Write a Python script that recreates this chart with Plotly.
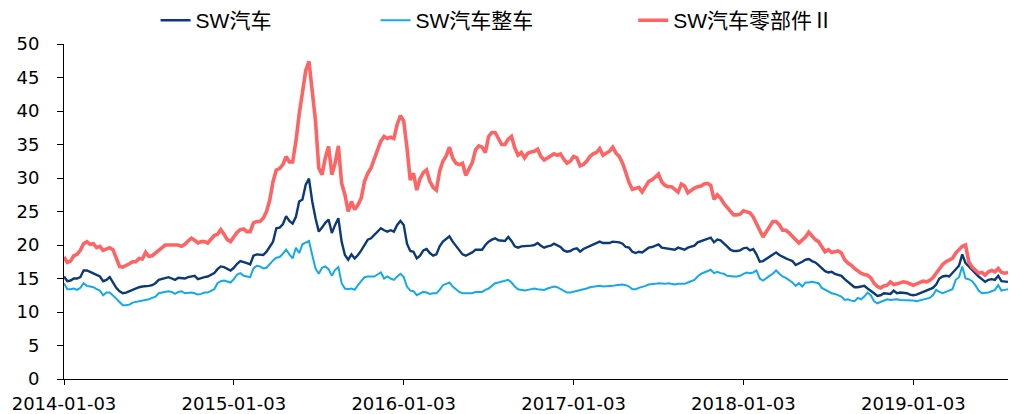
import pandas as pd
import plotly.graph_objects as go

# Weekly values (week 0 = 2014-01-03)
sw_auto = [
    15.3, 14.6, 14.7, 15.0, 15.0, 15.2, 16.2, 16.2, 16.0, 15.8,
    15.6, 15.3, 14.6, 14.8, 15.2, 14.3, 13.6, 13.1, 12.8, 12.9,
    13.1, 13.4, 13.5, 13.7, 13.8, 13.8, 13.9, 14.0, 14.3, 14.8,
    14.9, 15.0, 15.2, 15.0, 14.8, 15.1, 15.1, 15.0, 15.2, 15.3,
    15.4, 14.9, 15.1, 15.2, 15.3, 15.5, 15.8, 16.4, 16.8, 16.7,
    16.5, 16.2, 16.6, 17.2, 17.6, 17.5, 17.3, 17.1, 18.4, 18.6,
    18.6, 18.5, 19.0, 19.8, 20.5, 22.5, 22.6, 23.1, 24.3, 23.6,
    23.2, 24.2, 26.5, 26.8, 29.0, 29.9, 26.5, 24.0, 22.0, 22.6,
    23.3, 23.8, 21.8, 23.0, 24.0, 20.5, 18.5, 17.8, 18.6, 18.0,
    18.5, 19.2, 20.0, 20.8, 21.0, 21.5, 21.9, 22.5, 22.2, 22.0,
    22.2, 22.0, 23.0, 23.6, 23.0, 20.2, 19.1, 19.0, 18.0, 18.4,
    19.2, 19.4, 18.8, 18.4, 18.6, 19.8, 20.5, 20.9, 21.3, 20.5,
    19.9, 19.2, 18.6, 18.4, 18.6, 18.9, 19.3, 19.3, 19.3, 20.0,
    20.5, 20.8, 21.0, 20.7, 20.6, 20.6, 21.2, 20.6, 19.8, 19.6,
    19.8, 19.8, 19.8, 19.9, 20.0, 20.3, 19.9, 19.6, 19.8, 19.9,
    20.2, 20.0, 19.7, 19.2, 19.0, 19.1, 19.4, 19.5, 19.0, 19.4,
    19.6, 19.8, 20.1, 20.3, 20.5, 20.3, 20.3, 20.3, 20.5, 20.5,
    20.4, 20.2, 19.7, 19.6, 19.0, 18.8, 19.0, 18.9, 19.3, 19.6,
    19.7, 19.9, 20.1, 19.6, 19.5, 19.5, 19.4, 19.3, 19.6, 19.4,
    19.3, 19.6, 19.8, 19.9, 20.4, 20.6, 20.7, 21.0, 21.1, 20.4,
    20.8, 20.7, 20.3, 19.8, 19.3, 19.1, 19.1, 19.2, 19.5, 19.6,
    19.2, 19.4, 18.6, 17.5, 17.6, 17.9, 18.3, 18.6, 18.9, 18.5,
    18.2, 18.0, 17.8, 17.6, 17.0, 17.2, 17.5, 17.8, 17.9, 17.6,
    17.4, 17.0, 16.5, 16.1, 15.9, 16.0, 15.7, 15.5, 15.4, 14.9,
    14.5, 14.0, 13.7, 13.7, 13.8, 13.9, 13.5, 13.2, 12.8, 12.4,
    12.5, 12.8, 12.8, 12.7, 13.2, 12.8, 12.9, 12.9, 12.8, 12.6,
    12.5, 12.6, 12.8, 12.9, 13.1, 13.3, 13.6, 14.1, 15.0, 15.3,
    15.4, 15.3, 15.8, 16.3, 16.9, 18.6, 17.3, 16.8, 16.3, 15.7,
    15.3, 14.9, 14.5, 14.8, 14.9, 14.8, 15.4, 14.6, 14.5, 14.5,
]

sw_vehicle = [
    14.3, 13.4, 13.4, 13.5, 13.3, 13.6, 14.3, 13.9, 13.8, 13.7,
    13.4, 13.2, 12.5, 12.9, 12.9, 12.5, 12.0, 11.5, 11.0, 11.0,
    11.1, 11.4, 11.5, 11.6, 11.7, 11.7, 11.9, 12.1, 12.3, 12.8,
    12.9, 12.9, 13.1, 13.0, 12.7, 13.0, 13.1, 12.8, 12.9, 12.9,
    12.8, 12.6, 12.7, 12.9, 12.9, 13.1, 13.4, 14.3, 14.6, 14.7,
    14.5, 14.4, 14.9, 15.6, 15.8, 15.4, 15.3, 15.2, 16.5, 16.9,
    16.8, 16.5, 16.6, 17.2, 17.7, 18.1, 18.2, 18.7, 19.3, 18.6,
    18.0, 19.6, 18.8, 20.1, 20.3, 20.6, 18.5, 16.5, 15.7, 16.6,
    16.8, 16.4, 15.4, 16.3, 16.7, 14.3, 13.5, 13.4, 13.5, 13.3,
    14.0, 14.6, 15.2, 15.3, 15.3, 15.3, 15.6, 15.9, 15.0, 15.3,
    15.0, 14.8, 15.3, 15.7, 15.2, 13.8, 13.2, 13.1, 12.5, 12.7,
    13.0, 12.9, 12.7, 12.8, 12.8, 13.3, 14.0, 14.2, 14.4, 13.8,
    13.4, 13.0, 12.8, 12.8, 12.7, 12.8, 13.0, 13.0, 13.0, 13.3,
    13.5, 13.9, 14.3, 14.4, 14.5, 14.6, 14.8, 14.4, 13.8, 13.4,
    13.3, 13.2, 13.3, 13.4, 13.5, 13.4, 13.3, 13.3, 13.5, 13.6,
    13.8, 13.7, 13.4, 13.1, 12.9, 12.9, 13.0, 13.1, 13.3, 13.4,
    13.5, 13.7, 13.8, 13.9, 13.9, 13.8, 13.8, 13.9, 13.9, 14.0,
    14.1, 14.1, 14.0, 13.8, 13.4, 13.4, 13.6, 13.7, 13.9, 14.1,
    14.1, 14.2, 14.3, 14.2, 14.2, 14.3, 14.2, 14.1, 14.2, 14.2,
    14.2, 14.4, 14.6, 14.8, 15.3, 15.7, 15.9, 16.1, 16.3, 15.8,
    16.0, 15.8, 15.7, 15.4, 15.3, 15.3, 15.3, 15.4, 15.7, 15.9,
    15.8, 15.9, 16.2, 15.0, 14.7, 15.1, 15.4, 15.7, 16.2, 15.7,
    15.3, 15.1, 14.8, 14.4, 13.9, 14.3, 13.8, 14.4, 14.4, 14.5,
    14.4, 14.3, 13.6, 13.3, 13.1, 12.8, 12.7, 12.5, 12.3, 11.8,
    11.9, 11.7, 11.6, 12.1, 11.9, 12.3, 12.9, 12.5, 11.6, 11.3,
    11.5, 11.8, 11.9, 11.8, 11.9, 11.9, 11.8, 11.8, 11.7, 11.7,
    11.7, 11.6, 11.7, 11.8, 11.9, 12.1, 12.5, 13.3, 13.0, 12.8,
    13.0, 13.2, 13.4, 14.8, 15.2, 16.8, 15.0, 14.9, 14.6, 14.0,
    13.2, 12.8, 12.8, 12.9, 13.1, 13.3, 14.0, 13.2, 13.3, 13.4,
]

sw_parts = [
    18.2, 17.4, 17.6, 18.4, 18.6, 19.2, 20.2, 20.5, 20.1, 20.2,
    19.6, 19.8, 19.2, 19.4, 19.6, 19.3, 18.2, 16.8, 16.7, 16.9,
    17.2, 17.5, 17.5, 18.0, 17.9, 18.9, 18.3, 18.4, 18.8, 19.3,
    19.7, 20.0, 20.0, 20.0, 19.9, 20.0, 19.8, 20.1, 20.6, 21.0,
    20.7, 20.3, 20.5, 20.5, 20.3, 20.9, 21.4, 21.6, 22.3, 21.6,
    20.8, 20.5, 21.3, 21.9, 22.3, 22.4, 22.0, 22.0, 23.3, 23.5,
    23.5, 24.0, 25.0, 26.7, 29.5, 31.2, 31.4, 32.0, 33.2, 32.4,
    32.4, 35.5, 39.5, 42.5, 46.0, 47.4, 42.9, 38.5, 31.5, 30.5,
    33.0, 34.7, 30.5, 32.2, 34.8, 29.2, 27.5, 25.0, 26.5, 25.3,
    26.0, 27.0, 29.5, 30.7, 31.5, 33.0, 34.2, 35.5, 36.2, 35.9,
    36.1, 35.9, 38.0, 39.3, 38.5, 34.5, 29.7, 30.7, 28.2, 29.9,
    30.8, 31.2, 29.5, 28.6, 28.2, 31.0, 32.5, 33.3, 34.6, 33.0,
    32.2, 32.0, 32.2, 30.4, 31.5, 32.3, 34.2, 34.8, 34.6, 33.8,
    36.2, 36.8, 36.8, 36.0, 35.0, 35.0, 35.8, 36.2, 34.5, 33.4,
    33.8, 33.0, 33.7, 33.9, 34.0, 34.3, 33.2, 32.7, 33.0, 33.3,
    33.6, 33.4, 33.6, 32.8, 32.2, 32.5, 33.2, 33.0, 31.8, 32.0,
    32.5, 33.2, 33.6, 33.8, 34.4, 33.4, 33.7, 34.0, 34.6, 33.7,
    33.2, 32.2, 30.8, 29.3, 28.3, 28.4, 28.6, 27.9, 28.8, 29.5,
    29.7, 30.2, 30.6, 29.4, 28.9, 28.7, 28.7, 28.3, 27.9, 29.1,
    28.8, 27.8, 28.2, 28.5, 28.7, 28.8, 29.1, 29.2, 28.9, 26.8,
    27.5, 27.0, 26.2, 25.6, 25.0, 24.5, 24.5, 24.6, 25.1, 25.0,
    24.8, 24.2, 23.3, 22.2, 21.2, 22.0, 22.8, 23.5, 23.5, 23.0,
    22.2, 22.2, 21.8, 21.2, 20.8, 20.3, 20.7, 21.2, 21.9, 21.3,
    20.8, 20.5, 19.8, 19.0, 19.3, 18.9, 19.0, 19.1, 18.8, 17.8,
    17.3, 17.0, 16.5, 16.1, 15.8, 15.6, 15.5, 15.1, 14.3, 13.8,
    13.6, 13.9, 14.0, 14.5, 14.1, 14.2, 14.4, 14.5, 14.4, 14.2,
    14.0, 14.2, 14.4, 14.6, 14.5, 14.7, 15.1, 15.8, 16.5, 17.1,
    17.5, 17.8, 18.0, 18.8, 19.3, 19.8, 20.0, 17.5, 16.7, 16.3,
    15.8, 15.9, 15.5, 16.0, 16.2, 16.0, 16.5, 15.9, 15.8, 15.9,
]

series_names = ["SW汽车", "SW汽车整车", "SW汽车零部件Ⅱ"]
tick_labels = ["2014-01-03", "2015-01-03", "2016-01-03",
               "2017-01-03", "2018-01-03", "2019-01-03"]

n = len(sw_auto)
dates = pd.date_range("2014-01-03", periods=n, freq="7D")
tick_vals = [dates[i * 52] for i in range(len(tick_labels))]

colors = ["#0B3A78", "#14A9E8", "#FF6464"]
widths = [2.4, 2.0, 3.6]
legend_ids = ["legend", "legend2", "legend3"]

fig = go.Figure()
for vals, name, c, w, lg in zip([sw_auto, sw_vehicle, sw_parts], series_names,
                                colors, widths, legend_ids):
    fig.add_trace(go.Scatter(x=dates[:len(vals)], y=vals, mode="lines", name=name,
                             line=dict(color=c, width=w), legend=lg, showlegend=True))

font_main = "DejaVu Sans, Liberation Sans, Noto Sans CJK SC"
leg_common = dict(orientation="h", yanchor="middle", y=1.07, xanchor="left",
                  bgcolor="rgba(0,0,0,0)",
                  font=dict(family="Liberation Sans, Noto Sans CJK SC", size=21, color="#000"))

fig.update_layout(
    width=1010, height=414,
    margin=dict(l=64, r=2, t=44, b=35, autoexpand=False),
    paper_bgcolor="white", plot_bgcolor="white",
    showlegend=True,
    font=dict(family=font_main, size=18, color="#000"),
    legend=dict(x=0.097, **leg_common),
    legend2=dict(x=0.330, **leg_common),
    legend3=dict(x=0.603, **leg_common),
    xaxis=dict(type="date", range=[dates[0], dates[-1]],
               tickmode="array", tickvals=tick_vals, ticktext=tick_labels,
               showline=True, linecolor="#000", linewidth=1,
               ticks="outside", ticklen=5, tickcolor="#000",
               ticklabelstandoff=3, automargin=False,
               showgrid=False, zeroline=False, tickangle=0),
    yaxis=dict(range=[0, 50], dtick=5, tick0=0,
               showline=True, linecolor="#000", linewidth=1,
               ticks="outside", ticklen=6, tickcolor="#000",
               ticklabelstandoff=14, automargin=False,
               showgrid=False, zeroline=False),
)

fig.write_html("out.html", config={"displayModeBar": False},
               post_script="document.body.style.margin='0';document.body.style.padding='0';")
